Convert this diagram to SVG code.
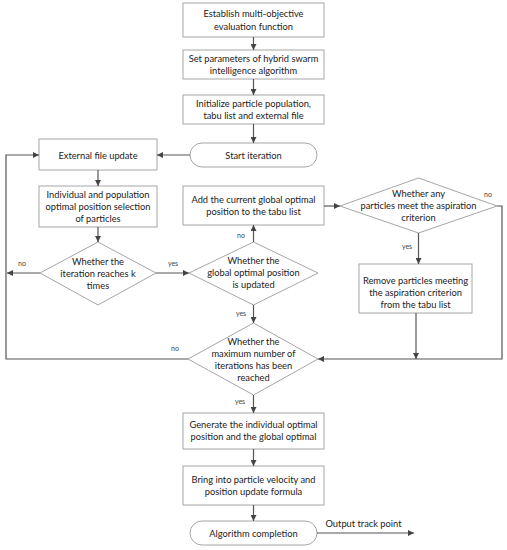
<svg xmlns="http://www.w3.org/2000/svg" width="507" height="550" viewBox="0 0 507 550">
<style>
.box{fill:#fff;stroke:#a6a6a6;stroke-width:1}
.t{font-family:Lato,"Liberation Sans",sans-serif;font-size:9.3px;fill:#222;text-anchor:middle}
.s{font-family:Lato,"Liberation Sans",sans-serif;font-size:7px;fill:#444;text-anchor:middle}
.c{fill:none;stroke:#555;stroke-width:1.2}
</style>
<defs>
<marker id="a" viewBox="0 0 10 10" refX="10" refY="5" markerWidth="6" markerHeight="6" orient="auto" markerUnits="userSpaceOnUse">
<path d="M0,0 L10,5 L0,10 z" fill="#444"/>
</marker>
</defs>
<rect width="507" height="550" fill="#fff"/>
<g id="n1"><rect class="box" x="183" y="3" width="141" height="34"/><text class="t" x="253.5" y="17">Establish multi-objective</text><text class="t" x="253.5" y="30">evaluation function</text></g>
<g id="n2"><rect class="box" x="183" y="50" width="141" height="29"/><text class="t" x="253.5" y="62">Set parameters of hybrid swarm</text><text class="t" x="253.5" y="74">intelligence algorithm</text></g>
<g id="n3"><rect class="box" x="183" y="95" width="141" height="29"/><text class="t" x="253.5" y="107">Initialize particle population,</text><text class="t" x="253.5" y="119">tabu list and external file</text></g>
<g id="n4"><rect class="box" x="190" y="143" width="127" height="24" rx="12"/><text class="t" x="253.5" y="158.5">Start iteration</text></g>
<g id="n5"><rect class="box" x="39" y="139" width="118" height="31"/><text class="t" x="98" y="158.5">External file update</text></g>
<g id="n6"><rect class="box" x="39" y="186" width="118" height="41"/><text class="t" x="98" y="198">Individual and population</text><text class="t" x="98" y="210">optimal position selection</text><text class="t" x="98" y="222">of particles</text></g>
<g id="n7"><polygon class="box" points="98,242 156,273 98,305 40,273"/><text class="t" x="98" y="265">Whether the</text><text class="t" x="98" y="277">iteration reaches k</text><text class="t" x="98" y="289">times</text></g>
<g id="n8"><rect class="box" x="183" y="186" width="141" height="39"/><text class="t" x="253.5" y="203">Add the current global optimal</text><text class="t" x="253.5" y="215">position to the tabu list</text></g>
<g id="n9"><polygon class="box" points="253.5,242 318,273 253.5,305 189,273"/><text class="t" x="253.5" y="264">Whether the</text><text class="t" x="253.5" y="276">global optimal position</text><text class="t" x="253.5" y="288">is updated</text></g>
<g id="n10"><polygon class="box" points="418.5,178 497,206 418.5,233 340,206"/><text class="t" x="418.5" y="197">Whether any</text><text class="t" x="418.5" y="209">particles meet the aspiration</text><text class="t" x="418.5" y="221">criterion</text></g>
<g id="n11"><rect class="box" x="359" y="264" width="113" height="49"/><text class="t" x="415.5" y="284">Remove particles meeting</text><text class="t" x="415.5" y="296">the aspiration criterion</text><text class="t" x="415.5" y="308">from the tabu list</text></g>
<g id="n12"><polygon class="box" points="253.5,323 318,359 253.5,395 188,359"/><text class="t" x="253.5" y="345">Whether the</text><text class="t" x="253.5" y="357">maximum number of</text><text class="t" x="253.5" y="369">iterations has been</text><text class="t" x="253.5" y="381">reached</text></g>
<g id="n13"><rect class="box" x="183" y="413" width="141" height="36"/><text class="t" x="253.5" y="428">Generate the individual optimal</text><text class="t" x="253.5" y="440">position and the global optimal</text></g>
<g id="n14"><rect class="box" x="183" y="466" width="141" height="39"/><text class="t" x="253.5" y="483">Bring into particle velocity and</text><text class="t" x="253.5" y="495">position update formula</text></g>
<g id="n15"><rect class="box" x="190" y="521" width="127" height="24" rx="12"/><text class="t" x="253.5" y="536.5">Algorithm completion</text></g>
<g id="connectors">
<path class="c" d="M253.5,37 V50" marker-end="url(#a)"/>
<path class="c" d="M253.5,79 V95" marker-end="url(#a)"/>
<path class="c" d="M253.5,124 V143" marker-end="url(#a)"/>
<path class="c" d="M190,155 H157" marker-end="url(#a)"/>
<path class="c" d="M98,170 V186" marker-end="url(#a)"/>
<path class="c" d="M98,227 V242" marker-end="url(#a)"/>
<path class="c" d="M40,273 H7" marker-end="url(#a)"/>
<path class="c" d="M188,359 H6 V155 H39" marker-end="url(#a)"/>
<path class="c" d="M156,273 H189" marker-end="url(#a)"/>
<path class="c" d="M253.5,242 V225" marker-end="url(#a)"/>
<path class="c" d="M324,206 H340" marker-end="url(#a)"/>
<path class="c" d="M418.5,233 V264" marker-end="url(#a)"/>
<path class="c" d="M497,206 H502 V359 H318" marker-end="url(#a)"/>
<path class="c" d="M416,313 V359" marker-end="url(#a)"/>
<path class="c" d="M253.5,305 V323" marker-end="url(#a)"/>
<path class="c" d="M253.5,395 V413" marker-end="url(#a)"/>
<path class="c" d="M253.5,449 V466" marker-end="url(#a)"/>
<path class="c" d="M253.5,505 V521" marker-end="url(#a)"/>
<path class="c" d="M317,533 H414" marker-end="url(#a)"/>
<text class="s" x="22" y="266">no</text>
<text class="s" x="173" y="266">yes</text>
<text class="s" x="241" y="238">no</text>
<text class="s" x="241" y="316">yes</text>
<text class="s" x="488" y="197">no</text>
<text class="s" x="407" y="249">yes</text>
<text class="s" x="175" y="351">no</text>
<text class="s" x="240" y="404">yes</text>
<text class="t" x="363.5" y="527">Output track point</text>
</g>
</svg>
